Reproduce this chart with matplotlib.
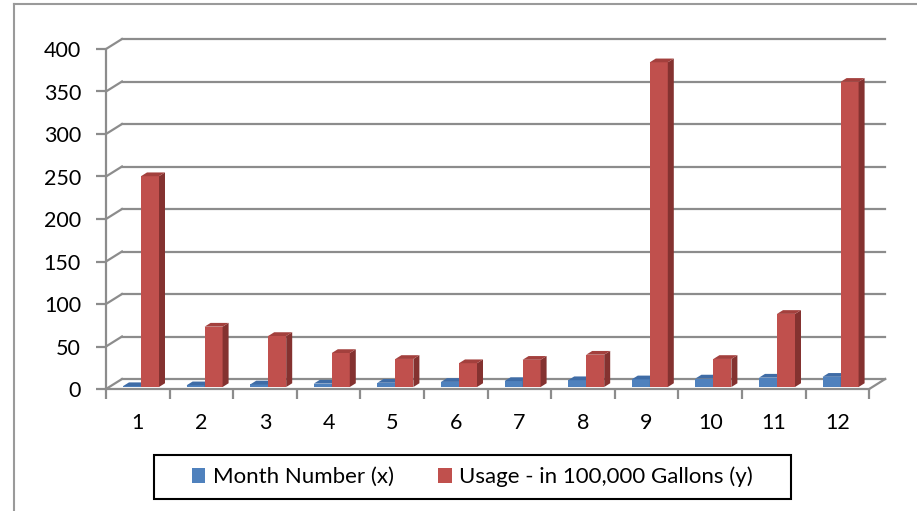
import numpy as np
import matplotlib.pyplot as plt
from matplotlib.patches import Polygon, Rectangle

months = [str(m) for m in range(1, 13)]
month_number = [1, 2, 3, 4, 5, 6, 7, 8, 9, 10, 11, 12]
usage = [248, 71, 60, 40, 33, 28, 32, 38, 382, 33, 86, 359]
y_ticks = [0, 50, 100, 150, 200, 250, 300, 350, 400]

series = [("Month Number (x)", month_number, "#4F81BD", "#3C6698", "#3F6CA6"),
          ("Usage - in 100,000 Gallons (y)", usage, "#C0504D", "#843230", "#A3403D")]

plt.rcParams['font.family'] = ['Lato', 'DejaVu Sans']

W, H = 917, 511
fig = plt.figure(figsize=(W / 100, H / 100), dpi=100)

# pixel geometry of the front plane
px_cat = 63.6
px_val = 0.85
x0_px, y0_px = 106, 389
xmax, ymin, ymax = 12.6, -10, 420
ax = fig.add_axes([x0_px / W, (H - y0_px - (-ymin) * px_val) / H,
                   xmax * px_cat / W, (ymax - ymin) * px_val / H])
ax.set_xlim(0, xmax)
ax.set_ylim(ymin, ymax)

# depth of the 3d box in data units
DX = 16 / px_cat
DY = 10 / px_val
grid_c = "#8C8C8C"
n = len(months)
fs = 15.5

# back wall gridlines and side wall diagonals
for t in y_ticks:
    ax.plot([DX, n + DX], [t + DY, t + DY], color=grid_c, lw=1.6, zorder=1)
    ax.plot([0, DX], [t, t + DY], color=grid_c, lw=1.6, zorder=1)
# floor right edge
ax.plot([n, n + DX], [0, DY], color=grid_c, lw=1.6, zorder=1)

# bars
w = 0.283
f0, f1 = 0.2, 0.575
for k, (name, vals, c_front, c_side, c_top) in enumerate(series):
    for i, v in enumerate(vals):
        xl = i + 0.5 - w + k * w + f0 * DX
        xr = xl + w
        yb = f0 * DY
        dd = (f1 - f0)
        ax.add_patch(Rectangle((xl, yb), w, v, facecolor=c_front,
                               edgecolor='none', zorder=3 + k))
        ax.add_patch(Polygon([(xr, yb), (xr, yb + v), (xr + dd * DX, yb + v + dd * DY),
                              (xr + dd * DX, yb + dd * DY)], closed=True,
                             facecolor=c_side, edgecolor='none', zorder=3 + k))
        ax.add_patch(Polygon([(xl, yb + v), (xr, yb + v), (xr + dd * DX, yb + v + dd * DY),
                              (xl + dd * DX, yb + v + dd * DY)], closed=True,
                             facecolor=c_top, edgecolor='none', zorder=3 + k))
    ax.bar([0], [0], color=c_front, label=name)

# axes spines and ticks
for s in ['top', 'right']:
    ax.spines[s].set_visible(False)
ax.spines['left'].set_bounds(0, 400)
ax.spines['bottom'].set_position(('data', 0))
ax.spines['bottom'].set_bounds(0, n)
for s in ['left', 'bottom']:
    ax.spines[s].set_color(grid_c)
    ax.spines[s].set_linewidth(1.6)
ax.set_yticks(y_ticks)
ax.set_yticklabels([str(t) for t in y_ticks])
ax.tick_params(axis='y', length=7, width=1.6, color=grid_c, labelsize=fs, pad=11)
ax.set_xticks(np.arange(0, n + 1))
ax.set_xticklabels([])
ax.tick_params(axis='x', which='major', length=7, width=1.6, color=grid_c)
ax.set_xticks(np.arange(n) + 0.5, minor=True)
ax.set_xticklabels(months, minor=True)
ax.tick_params(axis='x', which='minor', length=0, labelsize=fs, pad=17)
ax.patch.set_visible(False)

# outer chart border (left and top edges)
fig.add_artist(plt.Line2D([14 / W, 14 / W], [0, 1 - 4 / H], color="#9A9A9A", lw=1.5))
fig.add_artist(plt.Line2D([14 / W, 1], [1 - 4 / H, 1 - 4 / H], color="#9A9A9A", lw=1.5))

# legend with its own box
fig.add_artist(Rectangle((154 / W, 1 - 499 / H), (791 - 154) / W, 44 / H,
                         transform=fig.transFigure, facecolor='white',
                         edgecolor='black', lw=1.5))
leg = fig.legend(loc='center', bbox_to_anchor=((154 + 791) / 2 / W, 1 - 477 / H),
                 ncol=2, frameon=False, fontsize=16,
                 handlelength=0.6, handleheight=0.6, handletextpad=0.35,
                 columnspacing=2.0, borderpad=0.3)

fig.savefig('out.png', dpi=100)
